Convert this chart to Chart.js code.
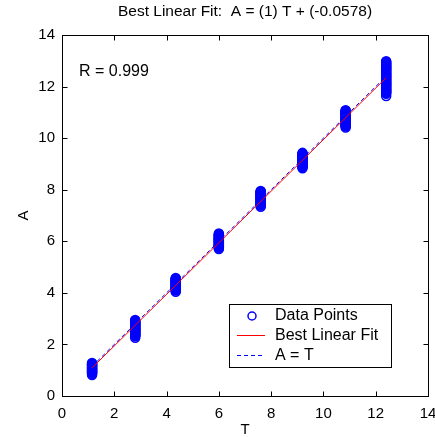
<!DOCTYPE html>
<html>
	<head>
		<script src="https://cdn.jsdelivr.net/npm/chart.js@4"></script>
		<style>
			body { margin: 0; background: #fff; }
		</style>
	</head>
	<body>
		<canvas id="myChart" width="435" height="437"></canvas>
		<script>
			// Targets (T) of each group and the outputs (A) read for each group
			const targets = [1.15, 2.8, 4.35, 6.0, 7.6, 9.2, 10.85, 12.4];
			const outputs1 = [0.81, 0.86, 0.88, 0.90, 0.92, 0.94, 0.96, 0.98, 1.00, 1.02, 1.04, 1.06, 1.08, 1.10, 1.12, 1.14, 1.16, 1.18, 1.20, 1.22, 1.24, 1.26, 1.28];
			const outputs2 = [2.26, 2.32, 2.34, 2.36, 2.38, 2.40, 2.42, 2.44, 2.46, 2.48, 2.50, 2.52, 2.54, 2.56, 2.58, 2.60, 2.62, 2.64, 2.66, 2.68, 2.70, 2.72, 2.74, 2.76, 2.78, 2.80, 2.82, 2.84, 2.86, 2.88, 2.90, 2.92, 2.95];
			const outputs3 = [4.04, 4.09, 4.11, 4.13, 4.15, 4.17, 4.19, 4.21, 4.23, 4.25, 4.27, 4.29, 4.31, 4.33, 4.35, 4.37, 4.39, 4.41, 4.43, 4.45, 4.47, 4.49, 4.51, 4.53, 4.55, 4.58];
			const outputs4 = [5.70, 5.75, 5.77, 5.79, 5.81, 5.83, 5.85, 5.87, 5.89, 5.91, 5.93, 5.95, 5.97, 5.99, 6.01, 6.03, 6.05, 6.07, 6.09, 6.11, 6.13, 6.15, 6.17, 6.19, 6.21, 6.23, 6.25, 6.27, 6.30];
			const outputs5 = [7.34, 7.39, 7.41, 7.43, 7.45, 7.47, 7.49, 7.51, 7.53, 7.55, 7.57, 7.59, 7.61, 7.63, 7.65, 7.67, 7.69, 7.71, 7.73, 7.75, 7.77, 7.79, 7.81, 7.83, 7.85, 7.87, 7.89, 7.91, 7.93, 7.95];
			const outputs6 = [8.83, 8.88, 8.90, 8.92, 8.94, 8.96, 8.98, 9.00, 9.02, 9.04, 9.06, 9.08, 9.10, 9.12, 9.14, 9.16, 9.18, 9.20, 9.22, 9.24, 9.26, 9.28, 9.30, 9.32, 9.34, 9.36, 9.38, 9.40, 9.43];
			const outputs7 = [10.41, 10.46, 10.48, 10.50, 10.52, 10.54, 10.56, 10.58, 10.60, 10.62, 10.64, 10.66, 10.68, 10.70, 10.72, 10.74, 10.76, 10.78, 10.80, 10.82, 10.84, 10.86, 10.88, 10.90, 10.92, 10.94, 10.96, 10.98, 11.00, 11.02, 11.04, 11.06, 11.08];
			const outputs8 = [11.63, 11.72, 11.75, 11.78, 11.81, 11.84, 11.87, 11.90, 11.93, 11.96, 11.99, 12.02, 12.05, 12.08, 12.11, 12.14, 12.17, 12.20, 12.23, 12.26, 12.29, 12.32, 12.35, 12.38, 12.41, 12.44, 12.47, 12.50, 12.53, 12.56, 12.59, 12.62, 12.65, 12.68, 12.71, 12.74, 12.77, 12.80, 12.83, 12.86, 12.89, 12.92, 12.95, 12.98];

			// Fit results shown in the title and the R label
			const slope = 1;
			const intercept = -0.0578;
			const rValue = "0.999";
			const axisTicks = [0, 2, 4, 6, 8, 10, 12, 14];

			let groups = [outputs1, outputs2, outputs3, outputs4, outputs5, outputs6, outputs7, outputs8];
			let points = [];
			groups.forEach((g, i) => g.forEach(a => points.push({x: targets[i], y: a})));

			let tMin = targets[0];
			let tMax = targets[targets.length - 1];
			let fitLine = [{x: tMin, y: tMin * slope + intercept}, {x: tMax, y: tMax * slope + intercept}];
			let idLine = [{x: tMin, y: tMin}, {x: tMax, y: tMax}];

			const FONT = "'Liberation Sans', Arial, sans-serif";

			// Box, inward ticks, title, axis labels, R text and legend (MATLAB look)
			const decor = {
				id: 'decor',
				afterDraw(chart) {
					let ctx = chart.ctx;
					let a = chart.chartArea;
					let xs = chart.scales.x, ys = chart.scales.y;
					let L = Math.round(a.left) + 0.5, R = Math.round(a.right) + 0.5;
					let T = Math.round(a.top) + 0.5, B = Math.round(a.bottom) + 0.5;
					ctx.save();
					ctx.strokeStyle = '#000';
					ctx.lineWidth = 1;
					ctx.strokeRect(L, T, R - L, B - T);
					ctx.beginPath();
					axisTicks.forEach(v => {
						let px = Math.round(xs.getPixelForValue(v)) + 0.5;
						ctx.moveTo(px, B); ctx.lineTo(px, B - 5);
						ctx.moveTo(px, T); ctx.lineTo(px, T + 5);
						let py = Math.round(ys.getPixelForValue(v)) + 0.5;
						ctx.moveTo(L, py); ctx.lineTo(L + 5, py);
						ctx.moveTo(R, py); ctx.lineTo(R - 5, py);
					});
					ctx.stroke();

					ctx.fillStyle = '#000';
					ctx.textBaseline = 'middle';
					ctx.textAlign = 'center';
					ctx.font = '15.5px ' + FONT;
					ctx.fillText('Best Linear Fit:  A = (' + slope + ') T + (' + intercept + ')', (a.left + a.right) / 2, 12);
					ctx.font = '15px ' + FONT;
					ctx.fillText('T', (a.left + a.right) / 2, 430);
					ctx.save();
					ctx.translate(24, (a.top + a.bottom) / 2);
					ctx.rotate(-Math.PI / 2);
					ctx.fillText('A', 0, 0);
					ctx.restore();

					ctx.textAlign = 'left';
					ctx.font = '16px ' + FONT;
					ctx.fillText('R = ' + rValue, 79, 72);

					// legend
					let lx = 229.5, ly = 304.5, lw = 162, lh = 63;
					ctx.fillStyle = '#fff';
					ctx.fillRect(lx, ly, lw, lh);
					ctx.strokeStyle = '#000';
					ctx.strokeRect(lx, ly, lw, lh);
					ctx.lineWidth = 1.5;
					ctx.strokeStyle = '#0000ff';
					ctx.beginPath();
					ctx.arc(252, 316, 4, 0, Math.PI * 2);
					ctx.stroke();
					ctx.fillStyle = '#ff0000';
					ctx.fillRect(237, 335, 28, 1);
					ctx.fillStyle = '#0000ff';
					for (let dx = 237; dx < 265; dx += 7) ctx.fillRect(dx, 355, 4, 1);
					ctx.fillStyle = '#000';
					chart.data.datasets.forEach((d, i) => ctx.fillText(d.label, 275, 316 + i * 20));
					ctx.restore();
				}
			};

			let ctx = document.getElementById('myChart').getContext('2d');
			let chart = new Chart(ctx, {
				type: 'scatter',
				data: {
					datasets: [{
						label: 'Data Points',
						data: points,
						borderColor: '#0000ff',
						backgroundColor: 'rgba(0,0,0,0)',
						borderWidth: 1.5,
						pointRadius: 4.5,
						order: 3
					}, {
						label: 'Best Linear Fit',
						data: fitLine,
						showLine: true,
						borderColor: '#ff0000',
						borderWidth: 1,
						pointRadius: 0,
						order: 2
					}, {
						label: 'A = T',
						data: idLine,
						showLine: true,
						borderColor: '#0000ff',
						borderDash: [4, 3],
						borderWidth: 1,
						pointRadius: 0,
						order: 1
					}]
				},
				options: {
					responsive: false,
					animation: false,
					events: [],
					layout: {padding: {top: 35, right: 7, left: 0, bottom: 0}},
					plugins: {
						legend: {display: false},
						title: {display: false},
						tooltip: {enabled: false}
					},
					scales: {
						x: {
							type: 'linear',
							min: 0, max: 14,
							grid: {display: false, drawTicks: false},
							border: {display: false},
							ticks: {stepSize: 2, color: '#000', padding: 9, font: {size: 15, family: FONT}},
							afterFit: s => { s.height = 41; s.paddingLeft = 0; s.paddingRight = 0; }
						},
						y: {
							type: 'linear',
							min: 0, max: 14,
							grid: {display: false, drawTicks: false},
							border: {display: false},
							ticks: {stepSize: 2, color: '#000', padding: 7, font: {size: 15, family: FONT}},
							afterFit: s => { s.width = 62; s.paddingTop = 0; s.paddingBottom = 0; }
						}
					}
				},
				plugins: [decor]
			});
		</script>
	</body>
</html>
